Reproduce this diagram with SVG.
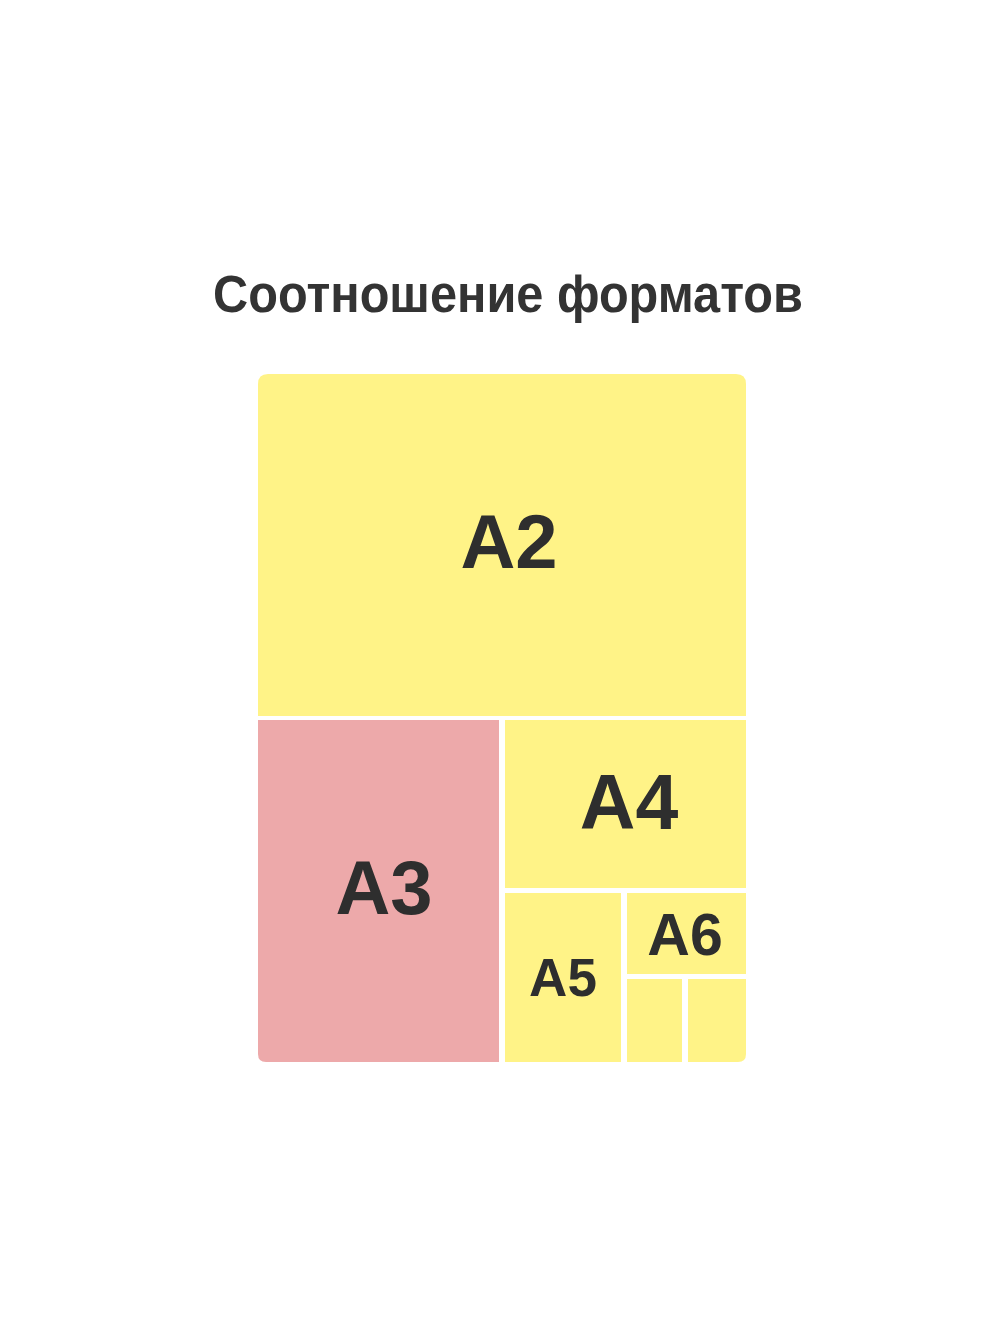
<svg xmlns="http://www.w3.org/2000/svg" width="1000" height="1333" viewBox="0 0 1000 1333">
<style>
.y{fill:#FFF387}
.p{fill:#EDA9AA}
.t{font-family:"Liberation Sans",Arial,sans-serif;font-weight:bold;fill:#2E2E2E;text-anchor:middle}
.h{font-family:"Liberation Sans Narrow","Liberation Sans",Arial,sans-serif;font-weight:bold;fill:#333333;text-anchor:middle}
</style>
<rect width="1000" height="1333" fill="#FFFFFF"/>
<text class="h" x="508" y="312" font-size="51" textLength="590" lengthAdjust="spacingAndGlyphs">Соотношение форматов</text>
<g id="A2"><path class="y" d="M268,374 H736 Q746,374 746,384 V716 H258 V384 Q258,374 268,374 Z"/><text class="t" x="509" y="568" font-size="76">A2</text></g>
<g id="A3"><path class="p" d="M258,720 H499 V1062 H266 Q258,1062 258,1054 Z"/><text class="t" x="384" y="914" font-size="76">A3</text></g>
<g id="A4"><rect class="y" x="505" y="720" width="241" height="168"/><text class="t" x="629" y="829" font-size="77">A4</text></g>
<g id="A5"><rect class="y" x="505" y="893" width="116" height="169"/><text class="t" x="563" y="996" font-size="53">A5</text></g>
<g id="A6"><rect class="y" x="627" y="893" width="119" height="81"/><text class="t" x="685" y="955" font-size="59">A6</text></g>
<g id="A7a"><rect class="y" x="627" y="979" width="55" height="83"/></g>
<g id="A7b"><path class="y" d="M688,979 H746 V1054 Q746,1062 738,1062 H688 Z"/></g>
<g id="connectors"></g>
</svg>
